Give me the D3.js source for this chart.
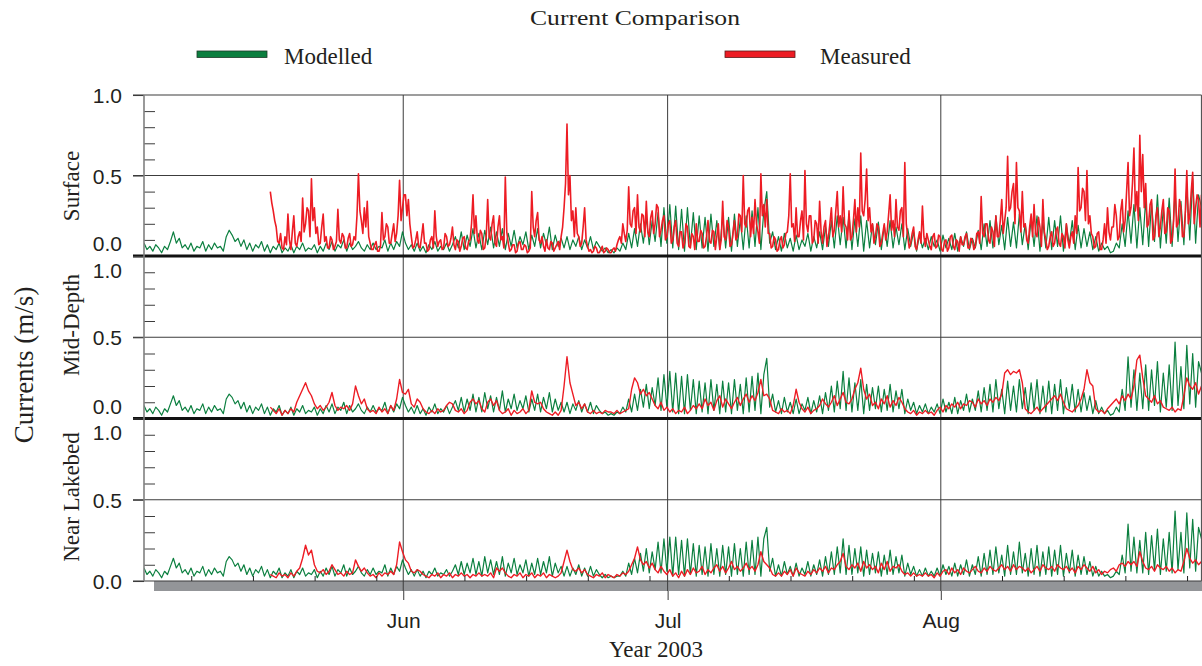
<!DOCTYPE html>
<html>
<head>
<meta charset="utf-8">
<script src="https://cdn.jsdelivr.net/npm/d3@7"></script>
<style>
  body { margin: 0; background: #ffffff; }
  svg { display: block; }
</style>
</head>
<body>
<svg id="chart" width="1202" height="666"></svg>
<script>
// Current speeds in cm/s, sampled from 2 May 2003 14:00 UTC.
const startTime = Date.UTC(2003, 4, 2, 14);
const modelStepHours = 8;          // model output interval
const surfaceMeterStepHours = 4;   // surface meter interval
const deepMeterStepHours = 8;      // mid-depth and near-bed meter interval
const meterStartHours = 344;       // meters start 14 days 8 h after model start
const spanDays = 120;

const panelNames = ["Surface", "Mid-Depth", "Near Lakebed"];
const seriesNames = ["Modelled", "Measured"];
const yTickValues = [0, 0.5, 1.0];
const yMinorValues = [0.1, 0.2, 0.3, 0.4, 0.6, 0.7, 0.8, 0.9];
const monthTicks = [Date.UTC(2003, 5, 1), Date.UTC(2003, 6, 1), Date.UTC(2003, 7, 1)];
const weekDays = [8, 15, 22, 29];

const modelledSurface = [
  8,4,6, 3,7,5, 2,6,4, 9,15,8, 11,5,7, 4,8,3, 6,5,9, 3,7,4, 8,5,6, 3,12,16,
  13,9,11, 6,10,4, 8,3,7, 5,9,3, 7,2,6, 4,8,2, 5,3,7, 2,6,4, 8,3,5, 4,7,2,
  6,3,8, 4,9,3, 7,5,10, 3,8,4, 6,9,5, 3,7,4, 8,4,6, 5,10,3, 8,4,9, 6,15,8,
  4,7,3, 8,3,6, 2,7,4, 9,3,6, 4,8,3, 7,12,5, 15,4,13, 6,17,5, 14,4,16, 7,18,5,
  15,6,17, 4,14,6, 16,5,12, 7,15,4, 13,6,17, 5,14,7, 18,4,13, 6,11,5, 12,4,10, 6,12,4,
  10,5,12, 4,9,6, 3,5,2, 4,2,5, 3,8,4, 14,5,17, 6,20,8, 24,7,22, 9,27,6, 30,8,32,
  5,31,4, 29,3,30, 6,27,4, 25,5,24, 3,26,6, 22,4,25, 5,24,3, 26,6,23, 4,25,5, 28,6,30,
  4,28,40, 8,15,4, 12,3,14, 5,11,3, 13,4,10, 6,14,3, 12,5,15, 4,18,6, 22,5,25, 7,24,5,
  26,4,23, 6,25,3, 22,5,20, 7,21,4, 19,6,22, 5,18,7, 20,4,17, 6,15,3, 13,5,11, 4,12,6,
  10,3,13, 5,11,4, 14,3,12, 6,15,4, 11,5,16, 4,20,6, 22,5,25, 7,19,4, 24,6,21, 5,26,7,
  20,4,23, 6,25,3, 21,5,24, 4,22,6, 25,3,20, 7,22,4, 19,5,17, 6,15,4, 12,3,8, 4,6,2,
  3,8,5, 20,6,28, 8,32,5, 30,7,35, 6,33,9, 38,5,30, 8,36,6, 40,9,34, 7,44,10, 48,8,38,
  30
];

const modelledMid = [
  8,4,6, 3,7,5, 2,6,4, 9,14,8, 11,5,7, 4,8,3, 6,5,9, 3,7,4, 8,5,6, 3,12,15,
  13,9,11, 6,10,4, 8,3,7, 5,9,3, 7,2,6, 4,8,2, 5,3,7, 2,6,4, 8,3,5, 4,7,2,
  6,3,8, 4,9,3, 7,5,10, 3,8,4, 6,9,5, 3,7,4, 8,4,6, 5,10,3, 8,4,9, 6,13,8,
  4,7,3, 8,3,6, 2,7,4, 9,3,6, 4,8,3, 7,11,5, 13,4,12, 5,15,4, 13,4,16, 6,14,4,
  13,5,17, 4,12,6, 15,5,11, 6,14,4, 12,5,15, 4,13,6, 16,4,12, 5,10,4, 10,3,9, 5,11,4,
  9,4,10, 3,8,5, 3,4,2, 3,2,4, 3,7,4, 12,4,15, 5,18,7, 21,6,19, 8,25,5, 27,7,29,
  4,28,3, 26,3,27, 5,24,3, 23,4,22, 3,24,5, 21,3,23, 4,22,3, 24,5,21, 3,25,4, 26,5,28,
  3,27,37, 7,15,4, 11,3,13, 4,10,3, 12,3,9, 5,13,3, 11,4,14, 3,16,5, 20,4,23, 6,29,5,
  25,4,22, 5,24,3, 21,5,19, 6,20,4, 18,5,21, 4,17,6, 18,3,12, 5,10,3, 8,4,9, 3,7,4,
  9,3,12, 4,10,3, 13,3,11, 5,15,4, 12,5,17, 4,19,5, 21,4,24, 6,18,3, 23,5,20, 4,24,6,
  19,3,22, 5,24,3, 20,4,23, 3,21,5, 24,3,19, 6,21,4, 18,4,16, 5,14,3, 11,3,7, 3,5,2,
  3,7,4, 18,5,38, 7,30,5, 28,6,33, 5,30,8, 35,4,28, 7,33,5, 47,8,32, 6,45,9, 40,7,35,
  28
];

const modelledNear = [
  8,4,6, 3,7,5, 2,6,4, 9,14,8, 11,5,7, 4,8,3, 6,5,9, 3,7,4, 8,5,6, 3,12,15,
  13,9,11, 6,10,4, 8,3,7, 5,9,3, 7,2,6, 4,8,2, 5,3,7, 2,6,4, 8,3,5, 4,7,2,
  6,3,8, 4,9,3, 7,5,10, 3,8,4, 6,9,5, 3,7,4, 8,4,6, 5,10,3, 8,4,9, 6,13,8,
  4,7,3, 7,3,6, 2,6,4, 8,3,5, 4,7,3, 6,10,4, 12,4,11, 5,14,4, 12,3,15, 5,13,4,
  12,4,15, 3,11,5, 14,4,10, 5,13,3, 11,4,14, 4,12,5, 15,3,11, 5,9,3, 9,3,8, 4,10,3,
  8,3,9, 3,7,4, 2,4,2, 3,2,3, 3,6,3, 11,4,14, 5,17,6, 20,5,18, 7,24,5, 26,6,27,
  3,27,4, 25,3,26, 4,23,3, 22,4,21, 3,23,4, 20,3,22, 4,21,3, 23,4,20, 3,24,4, 25,4,27,
  3,26,33, 6,14,3, 10,3,12, 4,9,3, 11,3,8, 4,12,3, 10,4,13, 3,15,4, 18,4,21, 5,26,4,
  22,4,20, 5,21,3, 19,4,17, 5,18,3, 16,4,19, 4,15,5, 16,3,11, 4,9,3, 7,3,8, 3,6,3,
  8,3,10, 4,9,3, 11,3,10, 4,13,3, 10,4,15, 3,17,4, 19,4,21, 5,16,3, 22,4,18, 4,24,5,
  17,3,20, 4,22,3, 18,4,21, 3,19,4, 22,3,17, 5,19,3, 16,4,15, 4,12,3, 9,3,6, 3,4,2,
  3,6,4, 16,5,35, 6,27,5, 25,5,30, 4,28,7, 32,4,26, 6,30,5, 43,7,30, 5,42,8, 38,6,33,
  26
];

// Surface meter, 4-hourly
const measuredSurface = [
  40,33,28,22,
  18,9,8,14,5,4, 12,7,26,10,4,15, 25,8,6,12,15,9, 36,15,20,30,28,12, 48,22,30,14,18,7,
  8,18,26,9,12,5, 5,12,10,4,6,9, 29,10,8,14,12,5, 5,11,14,6,7,12, 10,25,51,28,22,14,
  30,18,34,12,8,4, 4,7,9,3,3,6, 27,10,12,20,18,8, 8,14,20,9,14,25, 47,22,30,38,38,25,
  35,20,12,5,6,10, 15,6,5,12,20,8, 8,3,4,10,12,5, 28,12,6,9,10,4, 5,14,12,6,7,11,
  18,7,4,10,9,3, 6,11,12,5,4,9, 10,20,38,14,25,10, 8,16,14,4,5,12, 35,12,10,20,25,8,
  6,18,25,10,12,5, 49,15,8,3,4,7, 7,2,3,8,9,4, 4,7,6,2,3,5, 40,18,12,22,27,10,
  8,12,6,3,10,5, 4,9,8,3,5,7, 9,4,12,18,30,45, 82,38,50,22,28,12, 30,14,12,6,8,18,
  30,10,6,3,4,2, 3,6,5,2,2,4, 6,2,3,5,4,2, 2,4,5,3,7,10, 12,8,20,14,9,16,
  43,20,18,28,30,14, 38,18,15,26,25,12, 34,15,12,24,28,14, 20,32,30,12,16,22, 25,10,12,20,22,8,
  10,18,22,8,6,15, 15,5,8,20,18,6, 5,14,12,4,20,9, 9,16,14,5,6,12, 22,9,8,16,15,4,
  12,20,4,10,34,12, 10,22,18,6,7,14, 22,10,12,26,25,15, 50,20,18,28,30,12, 24,14,35,20,15,8,
  51,25,32,18,35,14, 14,5,6,12,10,3, 4,10,12,5,7,14, 15,25,51,18,20,9, 30,12,12,22,28,10,
  53,20,15,25,25,8, 10,22,20,8,34,15, 8,18,22,6,12,20, 30,12,16,28,40,18, 25,15,43,20,18,10,
  28,10,12,22,35,15, 30,18,64,28,25,35, 54,22,30,15,20,8, 12,20,18,6,8,14, 20,10,15,26,38,16,
  22,12,35,18,16,28, 30,12,58,20,12,5, 8,14,18,6,4,10, 15,8,31,12,6,14, 10,6,4,12,14,5,
  6,13,12,4,3,9, 10,3,5,12,13,6, 4,10,9,3,12,7, 7,12,14,5,5,11, 10,4,6,14,15,8,
  37,14,12,20,20,10, 8,18,15,6,25,12, 12,22,35,14,22,30, 62,28,30,40,45,20, 58,30,28,15,40,18,
  20,10,8,18,26,12, 32,14,12,24,18,6, 35,15,10,4,6,12, 15,6,8,16,18,8, 6,14,12,5,20,10,
  5,12,15,8,25,14, 55,28,30,42,40,22, 53,20,25,14,12,5, 6,14,15,4,4,10, 20,8,30,15,10,18,
  18,32,25,10,12,28, 35,15,22,40,58,25, 30,45,67,28,40,22, 75,40,63,30,45,18, 20,32,35,10,12,25,
  30,12,18,28,35,14, 15,30,28,8,10,22, 54,18,20,35,30,12, 12,28,53,20,25,40, 52,20,30,38,35,18,
  38
];

// Mid-depth meter, 8-hourly
const measuredMid = [
  7,5, 3,6,2, 5,3,6, 4,10,14, 18,22,17, 14,9,6,
  8,5,7, 10,16,8, 5,7,6, 8,5,9, 20,14,9, 12,6,4, 5,3,7, 4,6,3, 8,5,12, 24,16,15,
  18,9,7, 12,10,6, 4,3,5, 3,6,4, 5,8,10, 9,5,4, 6,3,5, 10,12,9, 11,6,4, 10,12,8,
  11,5,3, 4,6,2, 5,3,4, 6,3,5, 17,10,9, 10,6,4, 3,2,4, 2,5,20, 38,22,15, 8,10,6,
  9,4,3, 5,3,4, 3,5,4, 4,3,5, 3,4,5, 6,18,25, 22,15,18, 14,16,12, 8,6,10, 5,7,4,
  6,3,5, 4,7,3, 5,8,6, 9,6,12, 8,10,5, 11,14,7, 12,9,6, 10,13,8, 12,15,10, 14,11,16,
  24,14,15, 12,5,4, 3,6,4, 5,3,8, 18,10,6, 4,7,3, 5,6,8, 12,9,7, 10,14,8, 12,16,10,
  9,12,18, 22,31,18, 12,15,8, 10,6,12, 9,14,7, 11,8,13, 10,6,4, 3,5,2, 4,3,5, 3,4,2,
  5,7,4, 8,6,9, 7,10,6, 9,8,11, 10,7,12, 9,11,8, 12,10,13, 11,15,28, 30,27,29, 28,30,22,
  6,4,3, 5,7,4, 6,8,10, 12,14,11, 15,10,6, 5,4,6, 8,12,18, 30,22,20, 6,4,5, 3,6,8,
  10,12,9, 14,11,15, 12,20,36, 39,25,14, 12,10,14, 9,11,7, 6,5,7, 4,6,5, 14,25,20, 18,22,15,
  20
];

// Near-bed meter, 8-hourly
const measuredNear = [
  4,3, 2,5,3, 4,2,5, 3,6,8, 14,22,16, 19,10,6,
  5,7,4, 6,10,7, 4,5,3, 6,4,5, 13,9,6, 8,5,3, 4,2,5, 3,5,4, 6,4,10, 24,18,13,
  11,6,5, 7,6,4, 3,2,4, 3,5,2, 4,3,5, 2,4,3, 5,3,4, 2,4,3, 5,3,4, 3,5,2,
  8,6,8, 5,3,2, 4,3,5, 2,4,3, 5,2,4, 3,5,2, 4,3,2, 3,5,12, 19,12,7, 6,8,5,
  7,4,3, 2,4,3, 5,2,4, 3,2,4, 3,5,4, 6,10,14, 21,13,10, 12,8,11, 7,5,9, 6,4,7,
  3,5,2, 6,3,7, 4,8,5, 6,9,4, 7,5,8, 10,6,9, 5,8,12, 7,9,6, 8,11,7, 9,6,10,
  18,12,10, 8,4,3, 5,3,6, 4,7,3, 8,5,4, 3,6,4, 7,5,8, 6,9,5, 8,7,10, 12,17,9,
  7,10,8, 11,6,12, 8,10,7, 9,5,11, 7,12,6, 9,8,10, 6,4,5, 3,5,3, 4,3,5, 3,4,2,
  5,3,6, 7,4,8, 5,7,4, 8,6,5, 7,9,6, 5,8,6, 9,7,6, 8,10,7, 9,6,10, 7,9,8,
  6,8,5, 7,9,6, 10,8,7, 9,6,10, 8,7,9, 6,8,5, 9,7,10, 8,6,9, 5,7,4, 6,5,7,
  8,6,10, 11,9,12, 10,12,9, 18,12,8, 7,9,6, 10,8,7, 9,6,8, 5,7,6, 12,20,14, 11,13,10,
  12
];

const modelledByPanel = [modelledSurface, modelledMid, modelledNear];
const measuredByPanel = [measuredSurface, measuredMid, measuredNear];
const measuredStepByPanel = [surfaceMeterStepHours, deepMeterStepHours, deepMeterStepHours];

// ---- drawing ----
const ink = "#231f20";
const gridColor = "#3c3c3c";
const modelledColor = "#0b7f3f";
const measuredColor = "#ed1c24";
const plotLeft = 144, plotRight = 1201.5;
const panelTops = [95, 256, 418.5];
const panelBottoms = [256, 418.5, 581];
const measuredWidths = [1.6, 1.4, 1.4];
const serif = "Liberation Serif, Times New Roman, serif";
const sans = "Liberation Sans, Arial, sans-serif";

const svg = d3.select("#chart");
const hourMs = 3600 * 1000;

const x = d3.scaleUtc()
  .domain([new Date(startTime), new Date(startTime + spanDays * 24 * hourMs)])
  .range([plotLeft, plotRight]);

// Title
svg.append("text")
  .attr("x", 635).attr("y", 25)
  .attr("text-anchor", "middle")
  .attr("font-family", serif)
  .attr("font-size", 22).attr("fill", ink)
  .attr("textLength", 210).attr("lengthAdjust", "spacingAndGlyphs")
  .text("Current Comparison");

// Legend
const legendItems = [
  { name: seriesNames[0], color: modelledColor, stroke: "#1d3b28", x: 197, tx: 284 },
  { name: seriesNames[1], color: measuredColor, stroke: "#5c1b1b", x: 725, tx: 820 }
];
legendItems.forEach(it => {
  svg.append("rect")
    .attr("x", it.x).attr("y", 51).attr("width", 70).attr("height", 6.5)
    .attr("fill", it.color).attr("stroke", it.stroke).attr("stroke-width", 0.8);
  svg.append("text")
    .attr("x", it.tx).attr("y", 64)
    .attr("font-family", serif)
    .attr("font-size", 23).attr("fill", ink)
    .text(it.name);
});

// Grey strip under the bottom panel
svg.append("rect")
  .attr("x", 154).attr("y", 581).attr("width", 1202 - 154).attr("height", 10)
  .attr("fill", "#939598");

// Vertical month grid lines
svg.append("g").selectAll("line")
  .data(monthTicks)
  .join("line")
  .attr("x1", d => x(new Date(d))).attr("x2", d => x(new Date(d)))
  .attr("y1", panelTops[0]).attr("y2", 591)
  .attr("stroke", gridColor).attr("stroke-width", 1);

const seriesLine = (yScale, firstHour, stepH) => d3.line()
  .x((d, i) => x(new Date(startTime + (firstHour + i * stepH) * hourMs)))
  .y(d => yScale(d / 100));

const defs = svg.append("defs");

panelNames.forEach((name, p) => {
  const top = panelTops[p], bottom = panelBottoms[p];
  const y = d3.scaleLinear().domain([0, 1]).range([bottom, top]);

  // horizontal grid at 0.5, and the top border for the first panel
  svg.append("line")
    .attr("x1", 133).attr("x2", plotRight)
    .attr("y1", y(0.5)).attr("y2", y(0.5))
    .attr("stroke", gridColor).attr("stroke-width", 1.1);
  if (p === 0) {
    svg.append("line")
      .attr("x1", 133).attr("x2", plotRight)
      .attr("y1", y(1)).attr("y2", y(1))
      .attr("stroke", gridColor).attr("stroke-width", 1.1);
  }

  // data lines
  const clipId = "clip" + p;
  defs.append("clipPath").attr("id", clipId)
    .append("rect")
    .attr("x", plotLeft).attr("y", top)
    .attr("width", plotRight - plotLeft).attr("height", bottom - top);
  const g = svg.append("g").attr("clip-path", `url(#${clipId})`);
  g.append("path")
    .datum(modelledByPanel[p])
    .attr("d", seriesLine(y, 0, modelStepHours))
    .attr("fill", "none").attr("stroke", modelledColor)
    .attr("stroke-width", 1.2).attr("stroke-linejoin", "round");
  g.append("path")
    .datum(measuredByPanel[p])
    .attr("d", seriesLine(y, meterStartHours, measuredStepByPanel[p]))
    .attr("fill", "none").attr("stroke", measuredColor)
    .attr("stroke-width", measuredWidths[p]).attr("stroke-linejoin", "round");

  // major ticks + labels
  const axis = svg.append("g")
    .attr("transform", `translate(${plotLeft},0)`)
    .call(d3.axisLeft(y).tickValues(yTickValues).tickSize(11).tickPadding(11)
      .tickFormat(d3.format(".1f")));
  axis.select(".domain").remove();
  axis.selectAll("line").attr("stroke", gridColor).attr("stroke-width", 1.1);
  axis.selectAll("text")
    .attr("font-family", sans)
    .attr("font-size", 21).attr("fill", ink)
    .attr("dy", d => {
      if (d === 1 && p > 0) return "1.0em";
      if (d === 0 && p < 2) return "-0.25em";
      return "0.36em";
    });

  // minor ticks pointing into the plot
  const minor = svg.append("g")
    .attr("transform", `translate(${plotLeft},0)`)
    .call(d3.axisRight(y).tickValues(yMinorValues).tickSize(11).tickFormat(""));
  minor.select(".domain").remove();
  minor.selectAll("line").attr("stroke", gridColor).attr("stroke-width", 1);

  // baseline
  svg.append("line")
    .attr("x1", 133).attr("x2", plotRight)
    .attr("y1", bottom).attr("y2", bottom)
    .attr("stroke", p < 2 ? "#111" : gridColor)
    .attr("stroke-width", p < 2 ? 3 : 1.2);

  // panel label
  const labelY = [186, 325, 497][p];
  svg.append("text")
    .attr("transform", `translate(79,${labelY}) rotate(-90)`)
    .attr("text-anchor", "middle")
    .attr("font-family", serif)
    .attr("font-size", 23).attr("fill", ink)
    .text(name);
});

// left axis line and right border
svg.append("line")
  .attr("x1", plotLeft).attr("x2", plotLeft)
  .attr("y1", panelTops[0]).attr("y2", 581)
  .attr("stroke", "#808080").attr("stroke-width", 1.6);
svg.append("line")
  .attr("x1", plotRight).attr("x2", plotRight)
  .attr("y1", panelTops[0]).attr("y2", 581)
  .attr("stroke", "#555").attr("stroke-width", 1.2);

// weekly ticks along the bottom of the last panel
const weekTicks = [];
[4, 5, 6, 7].forEach(m => weekDays.forEach(d => {
  const t = Date.UTC(2003, m, d);
  if (t > startTime && t < startTime + spanDays * 24 * hourMs) weekTicks.push(t);
}));
svg.append("g").selectAll("line")
  .data(weekTicks)
  .join("line")
  .attr("x1", d => x(new Date(d))).attr("x2", d => x(new Date(d)))
  .attr("y1", 581).attr("y2", 576)
  .attr("stroke", "#222").attr("stroke-width", 1);

// month axis
const monthAxis = svg.append("g")
  .attr("transform", "translate(0,591)")
  .call(d3.axisBottom(x).tickValues(monthTicks.map(d => new Date(d)))
    .tickSize(9).tickPadding(13).tickFormat(d3.utcFormat("%b")));
monthAxis.select(".domain").remove();
monthAxis.selectAll("line").attr("stroke", gridColor).attr("stroke-width", 1);
monthAxis.selectAll("text")
  .attr("font-family", sans)
  .attr("font-size", 21).attr("fill", ink);

// axis titles
svg.append("text")
  .attr("x", 656).attr("y", 657)
  .attr("text-anchor", "middle")
  .attr("font-family", serif)
  .attr("font-size", 23).attr("fill", ink)
  .text("Year 2003");

svg.append("text")
  .attr("transform", "translate(33,365) rotate(-90)")
  .attr("text-anchor", "middle")
  .attr("font-family", serif)
  .attr("font-size", 27).attr("fill", ink)
  .text("Currents (m/s)");
</script>
</body>
</html>
